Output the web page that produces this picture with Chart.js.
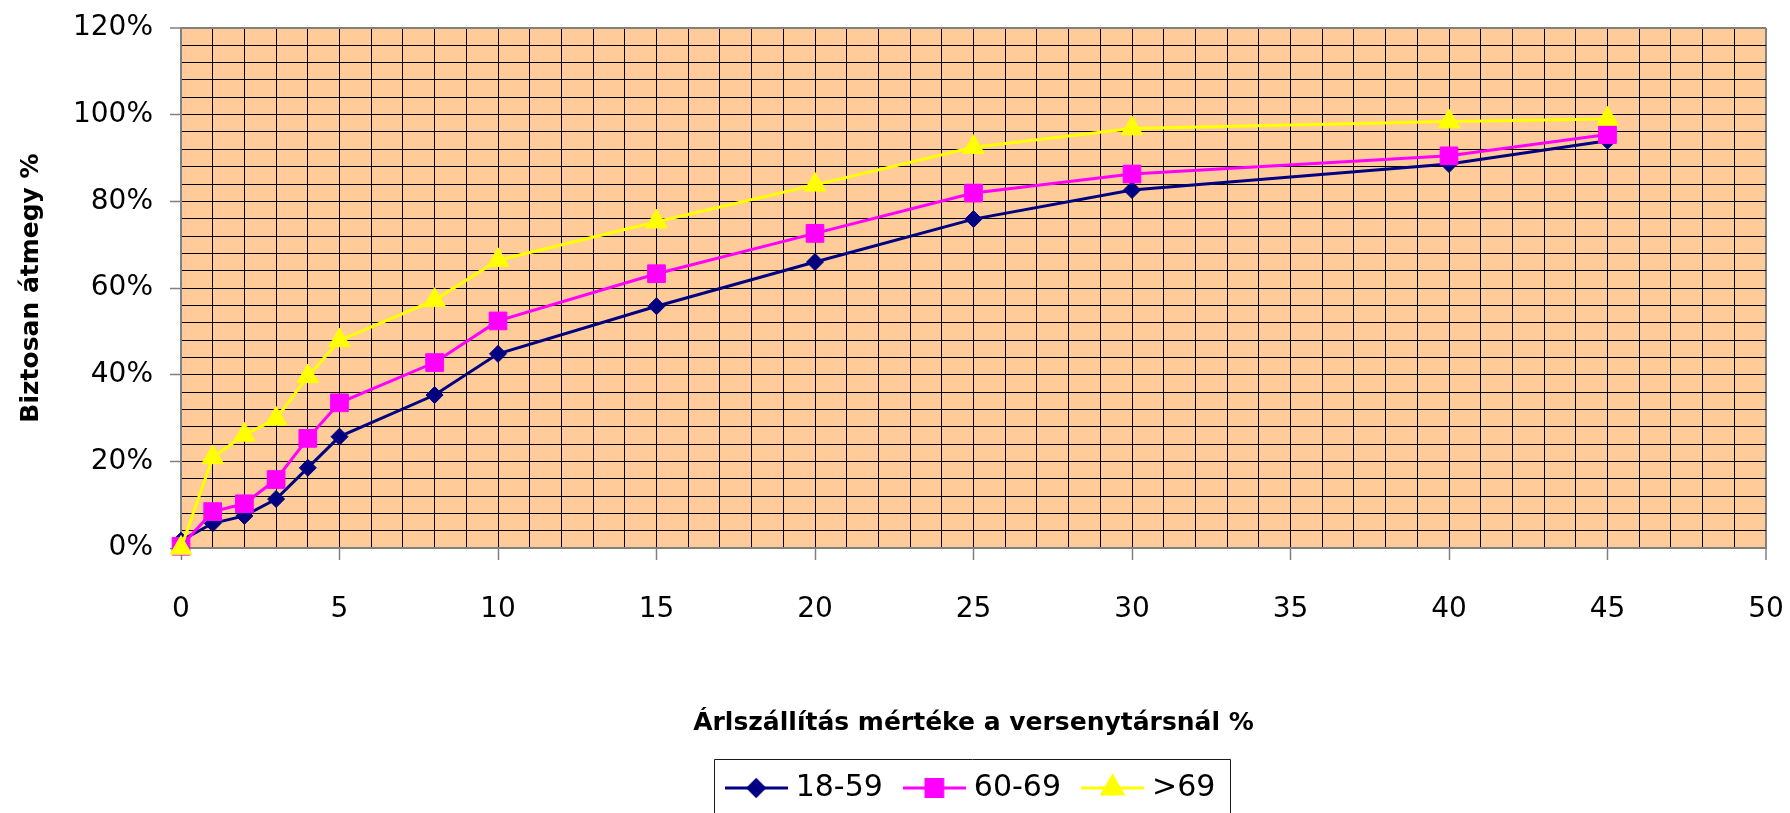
<!DOCTYPE html>
<html>
<head>
<meta charset="utf-8">
<script src="https://cdn.jsdelivr.net/npm/chart.js@4/dist/chart.umd.min.js"></script>
<style>
  html, body { margin: 0; padding: 0; background: #fff; }
  canvas { display: block; }
</style>
</head>
<body>
<canvas id="chart" width="1790" height="813"></canvas>
<script>
// Árlszállítás vs. átmegy

const discount = [0, 1, 2, 3, 4, 5, 8, 10, 15, 20, 25, 30, 40, 45]
const age1859 = [1.7, 5.7, 7.4, 11.3, 18.5, 25.7, 35.3, 44.8, 55.8, 66.0, 75.9, 82.6, 88.6, 94.0]
const age6069 = [0.4, 8.4, 10.2, 15.8, 25.3, 33.5, 42.8, 52.4, 63.3, 72.6, 81.9, 86.3, 90.5, 95.4]
const ageOver69 = [0, 20.9, 26.1, 29.8, 39.6, 47.9, 57.2, 66.4, 75.3, 83.8, 92.5, 96.8, 98.4, 99.0]
const seriesNames = ['18-59', '60-69', '>69']

const X_MAX = 50
const Y_MAX = 120
const FONT = "'DejaVu Sans', sans-serif"

const series = [
  { label: seriesNames[0], values: age1859, color: '#000080', style: 'rectRot', radius: 8.5, order: 3 },
  { label: seriesNames[1], values: age6069, color: '#FF00FF', style: 'rect', radius: 12.5, order: 2 },
  { label: seriesNames[2], values: ageOver69, color: '#FFFF00', style: 'triangle', radius: 12.5, order: 1 }
]

// little line+marker picture for the legend
function legendIcon(s) {
  const c = document.createElement('canvas')
  c.width = 63
  c.height = 30
  const g = c.getContext('2d')
  g.strokeStyle = s.color
  g.lineWidth = 3
  g.beginPath()
  g.moveTo(0, 15)
  g.lineTo(63, 15)
  g.stroke()
  g.fillStyle = s.color
  g.strokeStyle = s.color
  Chart.helpers.drawPoint(g, { pointStyle: s.style, radius: s.radius * 0.95, borderWidth: 1, rotation: 0 }, 31.5, 15)
  return c
}

const plotBackground = {
  id: 'plotBackground',
  beforeDraw(chart) {
    const { ctx, chartArea: a } = chart
    ctx.save()
    ctx.fillStyle = '#ffffff'
    ctx.fillRect(0, 0, chart.width, chart.height)
    ctx.fillStyle = '#FFCC99'
    ctx.fillRect(a.left, a.top, a.right - a.left, a.bottom - a.top)
    ctx.restore()
  }
}

// frame round the legend, like the original
const legendFrame = {
  id: 'legendFrame',
  afterDraw(chart) {
    const boxes = chart.legend && chart.legend.legendHitBoxes
    if (!boxes || !boxes.length) return
    const first = boxes[0]
    const last = boxes[boxes.length - 1]
    const { ctx } = chart
    ctx.save()
    ctx.strokeStyle = '#1a1a1a'
    ctx.lineWidth = 1
    const left = Math.round(first.left - 18) + 0.5
    const right = Math.round(last.left + last.width + 15) + 0.5
    const top = Math.round(first.top - 14) + 0.5
    ctx.beginPath()
    ctx.moveTo(left, chart.height + 5)
    ctx.lineTo(left, top)
    ctx.lineTo(right, top)
    ctx.lineTo(right, chart.height + 5)
    ctx.stroke()
    ctx.restore()
  }
}

const datasets = series.map(s => ({
  label: s.label,
  data: discount.map((x, i) => ({ x, y: s.values[i] })),
  borderColor: s.color,
  backgroundColor: s.color,
  borderWidth: 3,
  pointStyle: s.style,
  pointRadius: s.radius,
  pointBackgroundColor: s.color,
  pointBorderColor: s.color,
  pointBorderWidth: 1,
  order: s.order,
  clip: false,
  tension: 0
}))

const tickVal = (c) => (c.tick ? c.tick.value : null)

new Chart(document.getElementById('chart'), {
  type: 'line',
  data: { datasets },
  options: {
    responsive: false,
    animation: false,
    devicePixelRatio: 1,
    layout: { padding: { top: 28, right: 24, bottom: 0, left: 0 } },
    scales: {
      x: {
        type: 'linear',
        min: 0,
        max: X_MAX,
        afterFit: (scale) => {
          scale.height = 198
          scale.paddingLeft = 10
          scale.paddingRight = 18
        },
        ticks: {
          stepSize: 1,
          autoSkip: false,
          maxRotation: 0,
          padding: 33,
          color: '#000',
          font: { family: FONT, size: 28 },
          callback: (v) => (v % 5 === 0 ? String(v) : '')
        },
        grid: {
          color: (c) => (tickVal(c) === X_MAX ? '#808080' : '#000000'),
          lineWidth: (c) => (tickVal(c) === X_MAX ? 2 : 1),
          tickColor: (c) => (tickVal(c) % 5 === 0 ? '#808080' : 'rgba(0,0,0,0)'),
          tickLength: 12,
          tickWidth: 1.5
        },
        border: { color: '#808080', width: 2 },
        title: {
          display: true,
          text: 'Árlszállítás mértéke a versenytársnál %',
          color: '#000',
          font: { family: FONT, size: 25, weight: 'bold' },
          padding: { top: 0, bottom: 8 }
        }
      },
      y: {
        type: 'linear',
        min: 0,
        max: Y_MAX,
        afterFit: (scale) => {
          scale.width = 181
          scale.paddingTop = 0
          scale.paddingBottom = 0
        },
        ticks: {
          stepSize: 4,
          autoSkip: false,
          padding: 17,
          color: '#000',
          font: { family: FONT, size: 28 },
          callback: (v) => (Math.round(v) % 20 === 0 ? Math.round(v) + '%' : '')
        },
        grid: {
          color: (c) => (tickVal(c) === Y_MAX ? '#808080' : '#000000'),
          lineWidth: (c) => (tickVal(c) === Y_MAX ? 2 : 1),
          tickColor: (c) => (Math.round(tickVal(c)) % 20 === 0 ? '#808080' : 'rgba(0,0,0,0)'),
          tickLength: 11,
          tickWidth: 1.5
        },
        border: { color: '#808080', width: 2 },
        title: {
          display: true,
          text: 'Biztosan átmegy %',
          color: '#000',
          font: { family: FONT, size: 25, weight: 'bold' },
          padding: { top: 16, bottom: 0 }
        }
      }
    },
    plugins: {
      tooltip: { enabled: false },
      legend: {
        position: 'bottom',
        fullSize: false,
        align: 'center',
        labels: {
          usePointStyle: true,
          pointStyleWidth: 49,
          padding: 27,
          color: '#000',
          font: { family: FONT, size: 30 },
          generateLabels: () => series.map((s, i) => ({
            text: s.label,
            pointStyle: legendIcon(s),
            fillStyle: s.color,
            strokeStyle: s.color,
            lineWidth: 0,
            hidden: false,
            datasetIndex: i
          }))
        }
      }
    }
  },
  plugins: [plotBackground, legendFrame]
})
</script>
</body>
</html>
